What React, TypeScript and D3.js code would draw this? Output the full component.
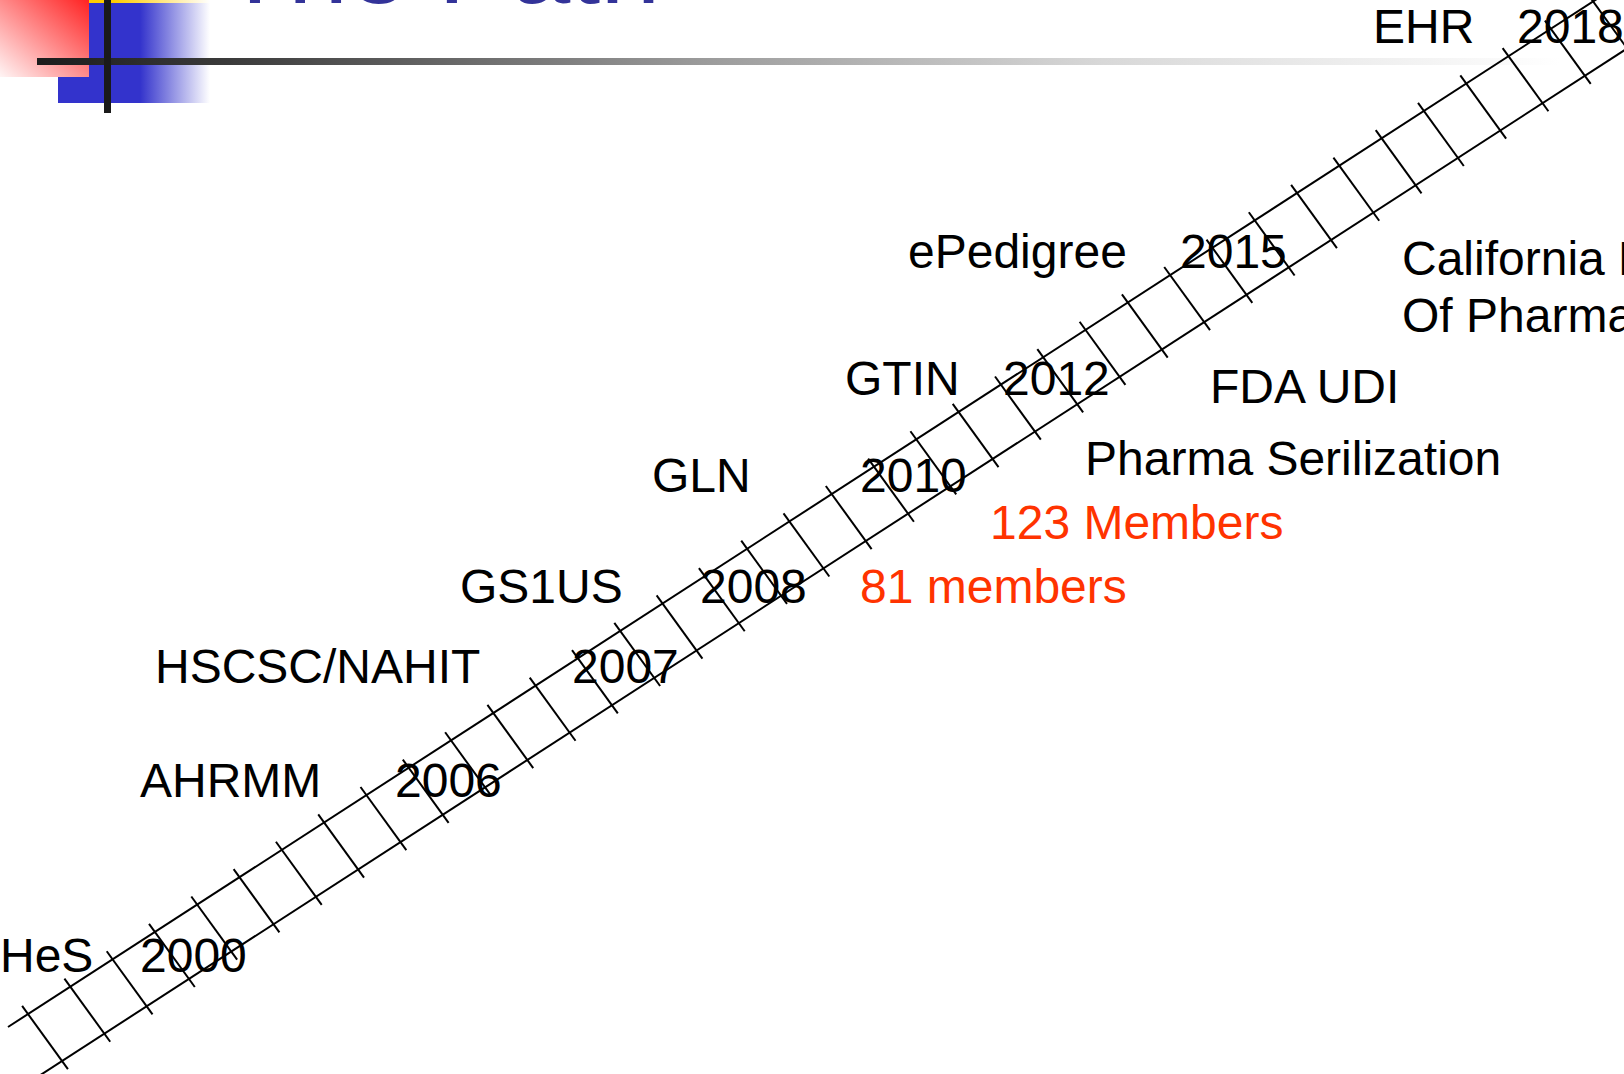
import React, { useEffect, useRef } from "react";
import * as d3 from "d3";

// timeline content
const years = ["2000", "2006", "2007", "2008", "2010", "2012", "2015", "2018"];
const milestones = ["HeS", "AHRMM", "HSCSC/NAHIT", "GS1US", "GLN", "GTIN", "ePedigree", "EHR"];
const notes = ["81 members", "123 Members", "Pharma Serilization", "FDA UDI", "California Board", "Of Pharmacy"];
const noteKinds = ["count", "count", "event", "event", "event", "event"];

// layout (slide positions, px)
const yearX = [140, 395, 572, 700, 860, 1003, 1180, 1517];
const rowBaseline = [972, 797, 683, 603, 492, 395, 268, 43];
const milestoneX = [0, 140, 155, 460, 652, 845, 908, 1373];
const noteX = [860, 990, 1085, 1210, 1402, 1402];
const noteY = [603, 539, 475, 403, 275, 332];

const W = 1624;
const H = 1074;
const FONT = "'Liberation Sans', Arial, sans-serif";

function App() {
  const ref = useRef<SVGSVGElement>(null);

  useEffect(() => {
    const svg = d3.select(ref.current);
    svg.selectAll("*").remove();

    const defs = svg.append("defs");
    const redGrad = defs.append("linearGradient").attr("id", "redSq")
      .attr("x1", 1).attr("y1", 0).attr("x2", 0).attr("y2", 1);
    redGrad.append("stop").attr("offset", 0).attr("stop-color", "#ff2222");
    redGrad.append("stop").attr("offset", 1).attr("stop-color", "#fff5f5");

    const blueGrad = defs.append("linearGradient").attr("id", "blueSq")
      .attr("x1", 0).attr("y1", 0).attr("x2", 1).attr("y2", 0);
    blueGrad.append("stop").attr("offset", 0).attr("stop-color", "#3333cc");
    blueGrad.append("stop").attr("offset", 0.54).attr("stop-color", "#3333cc");
    blueGrad.append("stop").attr("offset", 1).attr("stop-color", "#ffffff");

    const yellowGrad = defs.append("linearGradient").attr("id", "yellowSq")
      .attr("x1", 0).attr("y1", 0).attr("x2", 1).attr("y2", 0);
    yellowGrad.append("stop").attr("offset", 0).attr("stop-color", "#ffcc00");
    yellowGrad.append("stop").attr("offset", 0.2).attr("stop-color", "#ffcc00");
    yellowGrad.append("stop").attr("offset", 1).attr("stop-color", "#ffffff");

    const lineGrad = defs.append("linearGradient").attr("id", "hline")
      .attr("gradientUnits", "userSpaceOnUse")
      .attr("x1", 37).attr("y1", 0).attr("x2", 1560).attr("y2", 0);
    [[0, "#1c1c1c"], [0.13, "#3c3c3c"], [0.43, "#999999"], [0.7, "#d8d8d8"], [1, "#ffffff"]]
      .forEach(([o, c]) => lineGrad.append("stop").attr("offset", o).attr("stop-color", c));

    // header decoration
    const head = svg.append("g");
    head.append("rect").attr("x", 58).attr("y", 2).attr("width", 152).attr("height", 101)
      .attr("fill", "url(#blueSq)");
    head.append("rect").attr("x", 89).attr("y", 0).attr("width", 121).attr("height", 3)
      .attr("fill", "url(#yellowSq)");
    head.append("rect").attr("x", 0).attr("y", 0).attr("width", 89).attr("height", 77)
      .attr("fill", "url(#redSq)");
    head.append("rect").attr("x", 37).attr("y", 58).attr("width", 1523).attr("height", 7)
      .attr("fill", "url(#hline)");
    head.append("rect").attr("x", 104).attr("y", 0).attr("width", 7).attr("height", 113)
      .attr("fill", "#1a1a1a");

    svg.append("text").attr("x", 222).attr("y", 3)
      .attr("font-family", FONT).attr("font-size", 108).attr("fill", "#333399")
      .text("The Path");

    // railway track
    const slope = -0.647;
    const railX = d3.scaleLinear().domain([0, 1]).range([8, 1720]);
    const railY = d3.scaleLinear().domain([8, 1720]).range([1027, 1027 + slope * 1712]);
    const gauge = 69;
    const track = svg.append("g").attr("stroke", "#000").attr("stroke-width", 2).attr("fill", "none");

    const rail = d3.line<number>().x((t) => railX(t)).y((t) => railY(railX(t)));
    track.append("path").attr("d", rail([0, 1]));
    track.append("path").attr("d", rail([0, 1])).attr("transform", `translate(0,${gauge})`);

    const dir = [0.587, 0.81];
    const tieXs = d3.range(28, 1640, 42.3);
    track.selectAll("line.tie").data(tieXs).join("line").attr("class", "tie")
      .attr("x1", (x) => x - dir[0] * 10)
      .attr("y1", (x) => railY(x) - dir[1] * 10)
      .attr("x2", (x) => x + dir[0] * 68)
      .attr("y2", (x) => railY(x) + dir[1] * 68);

    // labels
    const labels = svg.append("g").attr("font-family", FONT).attr("font-size", 48);
    labels.selectAll("text.year").data(years).join("text").attr("class", "year")
      .attr("x", (_, i) => yearX[i]).attr("y", (_, i) => rowBaseline[i])
      .attr("fill", "#000").text((d) => d);
    labels.selectAll("text.ms").data(milestones).join("text").attr("class", "ms")
      .attr("x", (_, i) => milestoneX[i]).attr("y", (_, i) => rowBaseline[i])
      .attr("fill", "#000").text((d) => d);
    labels.selectAll("text.note").data(notes).join("text").attr("class", "note")
      .attr("x", (_, i) => noteX[i]).attr("y", (_, i) => noteY[i])
      .attr("fill", (_, i) => (noteKinds[i] === "count" ? "#ff3300" : "#000"))
      .text((d) => d);
  }, []);

  return (
    <svg
      ref={ref}
      width={W}
      height={H}
      style={{ position: "absolute", left: 0, top: 0, background: "#fff", display: "block" }}
    />
  );
}

export default App;
